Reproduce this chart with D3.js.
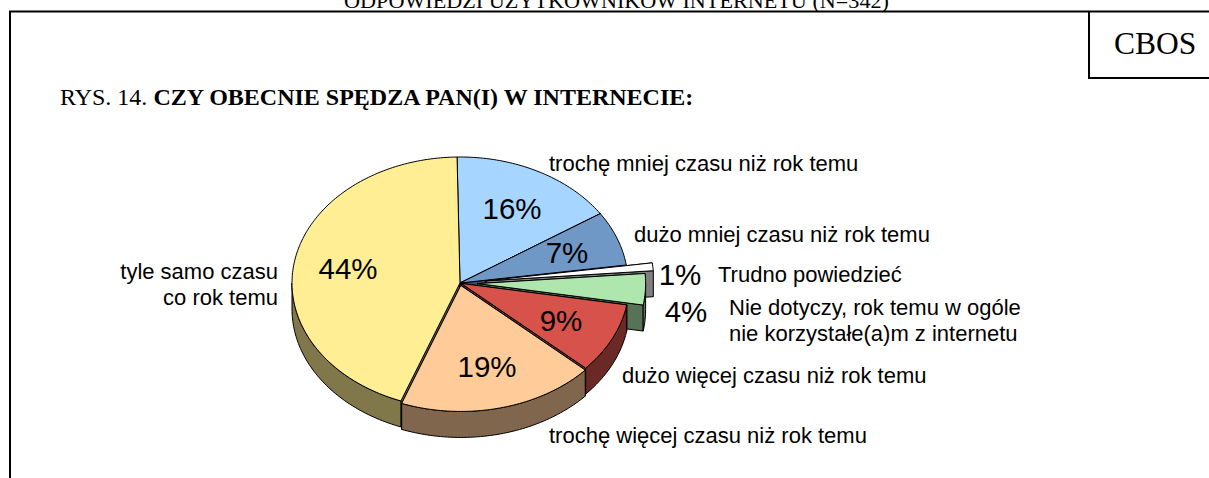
<!DOCTYPE html>
<html><head><meta charset="utf-8">
<script src="https://cdn.jsdelivr.net/npm/d3@7"></script>
<style>html,body{margin:0;padding:0;background:#fff;overflow:hidden}svg{display:block}</style>
</head><body><svg id="c" width="1209" height="478"></svg>
<script>
const categories = ["trochę mniej czasu niż rok temu","dużo mniej czasu niż rok temu","Trudno powiedzieć","Nie dotyczy, rok temu w ogóle nie korzystałe(a)m z internetu","dużo więcej czasu niż rok temu","trochę więcej czasu niż rok temu","tyle samo czasu co rok temu"];
const values = [16,7,1,4,9,19,44];
const topColors = ["#A6D5FF","#7098C6","#FFFFFF","#AEE6AE","#D6524A","#FFCC99","#FFEE94"];
const wallColors = ["#536A80","#384C63","#808080","#577357","#6B2925","#80664D","#80774A"];
const explode = [0,0,0.155,0.105,0.008,0.02,0];

const W=1209,H=478,cx=460,cy=283,rx=168,ry=126,depth=26;
const svg=d3.select("#c");
const X=d3.scaleLinear().domain([-1,1]).range([cx-rx,cx+rx]);
const Y=d3.scaleLinear().domain([-1,1]).range([cy-ry,cy+ry]);
const start=-1*Math.PI/180;
const arcs=d3.pie().sort(null).startAngle(start).endAngle(start+2*Math.PI)(values);
const line=d3.line().x(d=>d[0]).y(d=>d[1]);
function P(a,r,d,dz){const ex=d.ex;return [X(Math.sin(a)*r+ex*Math.sin(d.mid)),Y(-Math.cos(a)*r-ex*Math.cos(d.mid))+(dz||0)];}
arcs.forEach((d,i)=>{d.ex=explode[i];d.mid=(d.startAngle+d.endAngle)/2;d.i=i;});
function rim(a0,a1,d,dz){const n=Math.max(2,Math.ceil(Math.abs(a1-a0)/0.02));
  return d3.range(n+1).map(k=>P(a0+(a1-a0)*k/n,1,d,dz));}
function topPath(d){return line([P(0,0,d),...rim(d.startAngle,d.endAngle,d)])+"Z";}
function faces(d){
  const res=[];
  [d.startAngle,d.endAngle].forEach(a=>{
    res.push(line([P(0,0,d),P(a,1,d),P(a,1,d,depth),P(0,0,d,depth)])+"Z");
  });
  const lo=Math.max(d.startAngle,Math.PI/2),hi=Math.min(d.endAngle,1.5*Math.PI);
  if(hi>lo){const a=rim(lo,hi,d),b=rim(hi,lo,d,depth);res.push(line([...a,...b])+"Z");}
  return res;
}
function drawWalls(d){svg.append("g").selectAll("path").data(faces(d)).join("path").attr("d",p=>p)
  .attr("fill",wallColors[d.i]).attr("stroke","#000").attr("stroke-width",1).attr("stroke-linejoin","round");}
function drawTop(d){svg.append("path").attr("d",topPath(d)).attr("fill",topColors[d.i]).attr("stroke","#000").attr("stroke-width",1).attr("stroke-linejoin","round");}
const y=arcs[6];
drawWalls(y);
[0,1,2,3,4,5].forEach(i=>{drawWalls(arcs[i]);drawTop(arcs[i]);});
drawTop(y);

// frame
const frame=[[[10,478],[10,11.5],[1209,11.5]],[[1089,11.5],[1089,78],[1209,78]]];
svg.selectAll("path.f").data(frame).join("path").attr("class","f").attr("d",line).attr("fill","none").attr("stroke","#000").attr("stroke-width",2);

const serif="'Liberation Serif','Times New Roman',serif",sans="'Liberation Sans',Arial,sans-serif";
function T(x,y,s,size,fam,anchor,weight){return svg.append("text").attr("x",x).attr("y",y).text(s).attr("font-size",size).attr("font-family",fam).attr("text-anchor",anchor||"start").attr("font-weight",weight||"normal").attr("fill","#000");}
T(344,8,"ODPOWIEDZI UŻYTKOWNIKÓW INTERNETU (N=342)",22,serif).attr("textLength",545).attr("lengthAdjust","spacingAndGlyphs");
T(1114,54,"CBOS",31.5,serif);
const title=T(60,105,"RYS. 14. ",24,serif);
title.append("tspan").text("CZY OBECNIE SPĘDZA PAN(I) W INTERNECIE:").attr("font-weight","bold");

const pctPos=[[512,219],[567,263],[680,285],[686,322],[561,331],[487,377],[348,279]];
values.forEach((v,i)=>T(pctPos[i][0],pctPos[i][1],v+"%",29.5,sans,"middle"));

const labelLines=[["trochę mniej czasu niż rok temu"],["dużo mniej czasu niż rok temu"],["Trudno powiedzieć"],["Nie dotyczy, rok temu w ogóle","nie korzystałe(a)m z internetu"],["dużo więcej czasu niż rok temu"],["trochę więcej czasu niż rok temu"],["tyle samo czasu","co rok temu"]];
const labelPos=[[549,171,"start"],[634,242,"start"],[718,282,"start"],[729,315,"start"],[622,383,"start"],[549,443,"start"],[278,279,"end"]];
labelLines.forEach((ls,i)=>ls.forEach((s,k)=>T(labelPos[i][0],labelPos[i][1]+k*26,s,22,sans,labelPos[i][2])));
</script></body></html>
